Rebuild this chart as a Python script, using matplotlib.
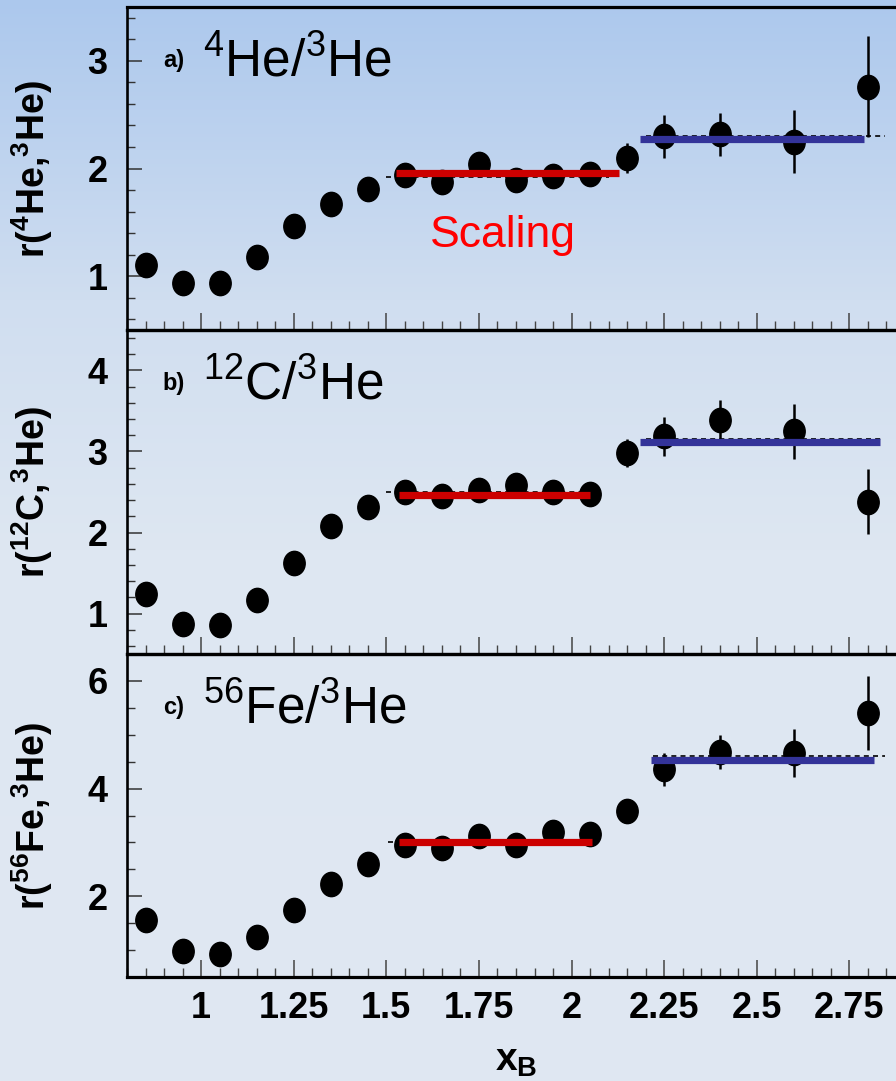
import numpy as np
import matplotlib
matplotlib.use("Agg")
import matplotlib.pyplot as plt
from matplotlib import font_manager
from matplotlib.path import Path
from matplotlib.ticker import MultipleLocator

# --- fonts ---
names = {f.name for f in font_manager.fontManager.ttflist}
narrow = "Liberation Sans Narrow" if "Liberation Sans Narrow" in names else "Liberation Sans"
plt.rcParams["font.family"] = ["Liberation Sans", "DejaVu Sans"]
plt.rcParams["mathtext.fontset"] = "custom"
plt.rcParams["mathtext.default"] = "regular"

# --- data ---
x_pts = [0.85, 0.95, 1.05, 1.15, 1.25, 1.35, 1.45, 1.55, 1.65, 1.75, 1.85,
         1.95, 2.05, 2.15, 2.25, 2.4, 2.6, 2.8]

r_he4 = [1.10, 0.94, 0.94, 1.18, 1.47, 1.67, 1.81, 1.94, 1.87, 2.04, 1.89,
         1.93, 1.95, 2.10, 2.30, 2.32, 2.25, 2.76]
e_he4 = [0.03, 0.03, 0.03, 0.03, 0.03, 0.03, 0.03, 0.04, 0.04, 0.05, 0.05,
         0.06, 0.07, 0.14, 0.20, 0.20, 0.29, 0.47]

r_c12 = [1.24, 0.87, 0.86, 1.17, 1.62, 2.08, 2.31, 2.50, 2.45, 2.53, 2.59,
         2.50, 2.47, 2.98, 3.19, 3.39, 3.25, 2.38]
e_c12 = [0.03, 0.03, 0.03, 0.03, 0.03, 0.03, 0.04, 0.05, 0.05, 0.06, 0.07,
         0.08, 0.10, 0.17, 0.24, 0.24, 0.34, 0.40]

r_fe56 = [1.55, 0.99, 0.93, 1.25, 1.75, 2.23, 2.60, 2.96, 2.89, 3.11, 2.95,
          3.19, 3.15, 3.59, 4.36, 4.68, 4.66, 5.40]
e_fe56 = [0.05, 0.05, 0.05, 0.05, 0.05, 0.05, 0.06, 0.07, 0.08, 0.09, 0.10,
          0.12, 0.14, 0.15, 0.31, 0.31, 0.45, 0.69]

# scaling fits: (x_start, x_end, level)
red_fit = [(1.525, 2.128, 1.958), (1.533, 2.05, 2.463), (1.533, 2.055, 3.007)]
blue_fit = [(2.185, 2.79, 2.274), (2.185, 2.832, 3.114), (2.214, 2.817, 4.537)]
dash_low = [(1.50, 2.10, 1.925), (1.50, 2.05, 2.505), (1.505, 2.05, 3.00)]
dash_high = [(2.20, 2.846, 2.30), (2.20, 2.843, 3.155), (2.22, 2.846, 4.60)]

x_ticks = [1, 1.25, 1.5, 1.75, 2, 2.25, 2.5, 2.75]
x_ticklabels = ["1", "1.25", "1.5", "1.75", "2", "2.25", "2.5", "2.75"]

series = [r_he4, r_c12, r_fe56]
errors = [e_he4, e_c12, e_fe56]
ylims = [(0.5, 3.5), (0.5, 4.5), (0.5, 6.5)]
yticks = [[1, 2, 3], [1, 2, 3, 4], [2, 4, 6]]
yminor = [0.2, 0.2, 0.5]
ylabels = [r"r($^{4}$He,$^{3}$He)", r"r($^{12}$C,$^{3}$He)", r"r($^{56}$Fe,$^{3}$He)"]
tags = ["a)", "b)", "c)"]
titles = [r"$^{4}$He/$^{3}$He", r"$^{12}$C/$^{3}$He", r"$^{56}$Fe/$^{3}$He"]

# --- figure ---
W, H = 896, 1081
fig = plt.figure(figsize=(W / 100, H / 100), dpi=100)

# background gradient (top light blue -> pale)
bg = fig.add_axes([0, 0, 1, 1], zorder=-10)
rows = np.arange(H)
stops_y = [0, 300, 550, H]
cols = np.array([[172, 200, 237], [208, 222, 240], [222, 231, 242], [224, 232, 243]]) / 255
grad = np.stack([np.interp(rows, stops_y, cols[:, k]) for k in range(3)], axis=1)
bg.imshow(grad[:, None, :], aspect="auto", extent=[0, 1, 0, 1])
bg.axis("off")

circ = Path.unit_circle()
ellipse = Path(circ.vertices * [0.88, 1.0], circ.codes)

left = 127 / W
width = 778 / W
panel_px = [(7, 330), (330, 654), (654, 977)]

axes = []
for i in range(3):
    top, bot = panel_px[i]
    ax = fig.add_axes([left, (H - bot) / H, width, (bot - top) / H])
    ax.patch.set_alpha(0)
    axes.append(ax)

    ax.plot([dash_low[i][0], dash_low[i][1]], [dash_low[i][2]] * 2, color="k",
            lw=1.2, ls=(0, (3, 2.5)), zorder=2)
    ax.plot([dash_high[i][0], dash_high[i][1]], [dash_high[i][2]] * 2, color="k",
            lw=1.2, ls=(0, (3, 2.5)), zorder=2)

    ax.errorbar(x_pts, series[i], yerr=errors[i], fmt="none", ecolor="k",
                elinewidth=1.8, capsize=0, zorder=3)
    ax.plot(x_pts, series[i], ls="none", marker=ellipse, ms=17.5, color="k",
            mec="k", zorder=3)

    ax.plot([red_fit[i][0], red_fit[i][1]], [red_fit[i][2]] * 2, color="#cc0000",
            lw=5.2, solid_capstyle="butt", zorder=4)
    ax.plot([blue_fit[i][0], blue_fit[i][1]], [blue_fit[i][2]] * 2, color="#333399",
            lw=5.2, solid_capstyle="butt", zorder=4)

    ax.set_xlim(0.8, 2.9)
    ax.set_ylim(*ylims[i])
    ax.set_yticks(yticks[i])
    ax.yaxis.set_minor_locator(MultipleLocator(yminor[i]))
    ax.set_xticks(x_ticks)
    ax.set_xticklabels(x_ticklabels)
    ax.xaxis.set_minor_locator(MultipleLocator(0.05))

    ax.tick_params(axis="y", which="major", direction="in", length=11, width=1.1,
                   color="#333333", pad=14, labelsize=26)
    ax.tick_params(axis="y", which="minor", direction="in", length=5.5, width=1.0,
                   color="#333333")
    ax.tick_params(axis="x", which="major", direction="in", length=12.5, width=1.1,
                   color="#444444", pad=10, labelsize=26)
    ax.tick_params(axis="x", which="minor", direction="in", length=6.5, width=1.0,
                   color="#444444")
    for lab in ax.get_yticklabels() + ax.get_xticklabels():
        lab.set_fontfamily(narrow)
        lab.set_fontweight("bold")

    for side in ["left", "bottom", "top"]:
        ax.spines[side].set_linewidth(2.3)
    ax.spines["left"].set_linewidth(1.9)
    ax.spines["right"].set_visible(False)

    if i < 2:
        ax.tick_params(axis="x", labelbottom=False)

    ax.set_ylabel(ylabels[i], fontsize=27, fontweight="bold", family=narrow)
    ax.yaxis.set_label_coords(-0.093, 0.5)

    ax.text(0.046, 0.815, tags[i], transform=ax.transAxes, fontsize=17,
            fontweight="bold", family=narrow, ha="left", va="baseline")
    ax.text(0.098, 0.786, titles[i], transform=ax.transAxes, fontsize=37,
            ha="left", va="baseline")

axes[0].text(1.816, 1.275, "Scaling", color="#ff0000", fontsize=32,
             ha="center", va="baseline")

axes[2].set_xlabel(r"x$_{B}$", fontsize=28, fontweight="bold", family=narrow)
axes[2].xaxis.set_label_coords(0.5, -0.205)

fig.savefig("out.png", dpi=100)
